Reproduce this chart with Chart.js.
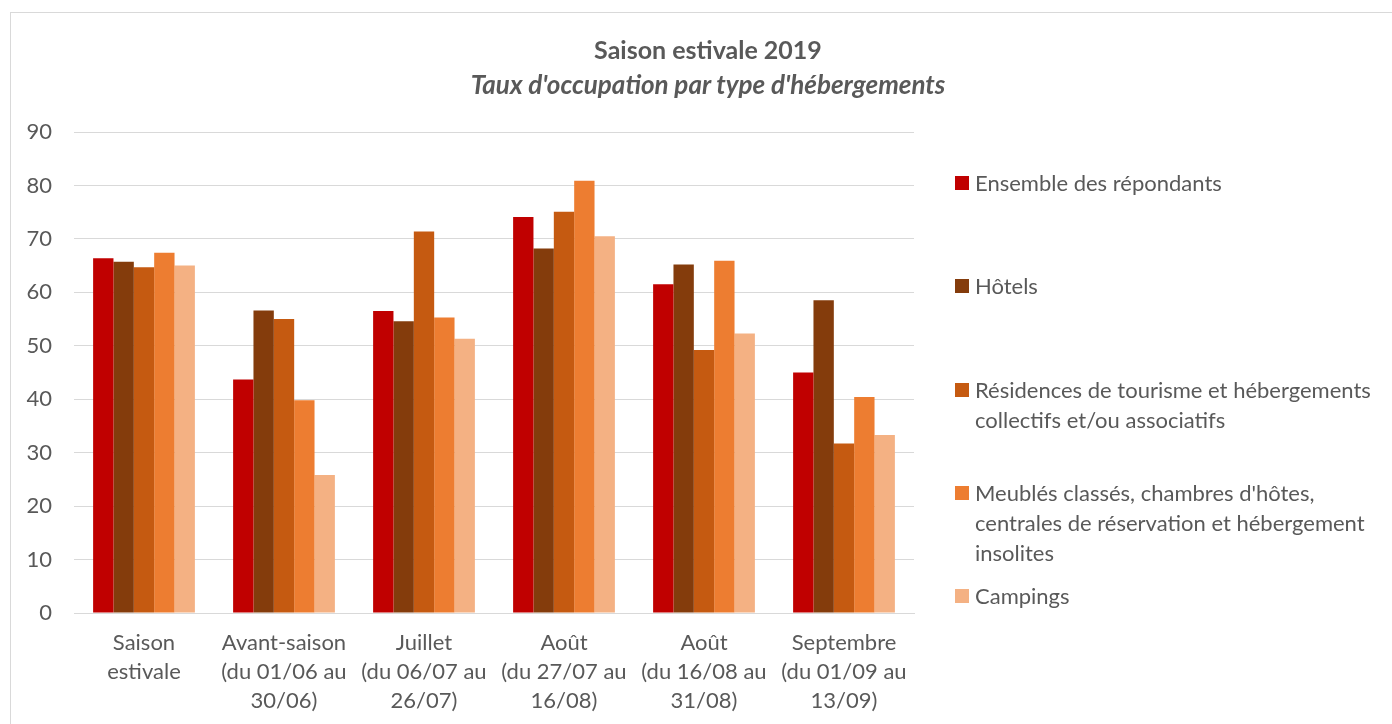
<!DOCTYPE html>
<html lang="fr">
<head>
  <meta charset="UTF-8">
  <title>Saison estivale 2019</title>
  <script src="https://cdn.jsdelivr.net/npm/chart.js"></script>
  <style>
    body { margin: 0; width: 1392px; height: 724px; overflow: hidden; background: #fff; font-family: Lato, "Open Sans", sans-serif; }
    #box { position: absolute; left: 10px; top: 12px; width: 1394px; height: 730px; border: 1px solid #d9d9d9; box-sizing: border-box; }
    #box canvas { position: absolute; left: 0; top: 0; }
    .ttl { position: absolute; left: 0; width: 1394px; text-align: center; color: #595959; font-weight: bold; line-height: 30px; }
    #t1 { top: 21px; font-size: 25px; }
    #t2 { top: 56px; font-size: 26px; font-style: italic; }
    #legend { position: absolute; left: 944px; top: 0; width: 450px; }
    .item { position: absolute; left: 0; display: flex; align-items: flex-start; font-size: 22px; line-height: 30px; color: #595959; }
    .sq { width: 14px; height: 14px; margin: 8px 6px 0 0; flex: none; }
  </style>
</head>
<body>
  <div id="box">
    <canvas id="chart" width="1394" height="730"></canvas>
    <div class="ttl" id="t1">Saison estivale 2019</div>
    <div class="ttl" id="t2">Taux d'occupation par type d'hébergements</div>
    <div id="legend"></div>
  </div>

  <script>
    const categories = [
      ['Saison', 'estivale'],
      ['Avant-saison', '(du 01/06 au', '30/06)'],
      ['Juillet', '(du 06/07 au', '26/07)'],
      ['Août', '(du 27/07 au', '16/08)'],
      ['Août', '(du 16/08 au', '31/08)'],
      ['Septembre', '(du 01/09 au', '13/09)']
    ];

    const seriesNames = [
      ['Ensemble des répondants'],
      ['Hôtels'],
      ['Résidences de tourisme et hébergements', 'collectifs et/ou associatifs'],
      ['Meublés classés, chambres d\'hôtes,', 'centrales de réservation et hébergement', 'insolites'],
      ['Campings']
    ];
    const seriesColors = ['#C00000', '#843C0C', '#C55A11', '#ED7D31', '#F4B183'];

    const ensemble   = [66.4, 43.7, 56.5, 74.1, 61.5, 45.0];
    const hotels     = [65.7, 56.6, 54.6, 68.2, 65.2, 58.5];
    const residences = [64.7, 55.0, 71.4, 75.1, 49.2, 31.7];
    const meubles    = [67.4, 39.8, 55.3, 80.9, 65.9, 40.4];
    const campings   = [65.0, 25.8, 51.3, 70.5, 52.3, 33.3];
    const seriesValues = [ensemble, hotels, residences, meubles, campings];

    const yTicks = [0, 10, 20, 30, 40, 50, 60, 70, 80, 90];

    const datasets = seriesValues.map((vals, i) => ({
      label: seriesNames[i].join(' '),
      data: vals,
      backgroundColor: seriesColors[i],
      borderWidth: 0,
      barPercentage: 1,
      categoryPercentage: 0.727
    }));

    const txt = '#595959';

    new Chart(document.getElementById('chart'), {
      type: 'bar',
      data: { labels: categories, datasets: datasets },
      options: {
        responsive: false,
        animation: false,
        layout: { padding: { left: 0, right: 491, top: 119, bottom: 0 } },
        plugins: {
          legend: { display: false },
          tooltip: { enabled: false }
        },
        scales: {
          x: {
            grid: { display: false, drawTicks: false },
            border: { color: '#d9d9d9', width: 1 },
            ticks: { color: txt, padding: 16, maxRotation: 0, autoSkip: false, font: { family: 'Lato', size: 22, lineHeight: 1.3 } },
            afterFit: s => { s.height = 130; }
          },
          y: {
            min: 0, max: 90,
            afterBuildTicks: s => { s.ticks = yTicks.map(v => ({ value: v })); },
            grid: { color: '#d9d9d9', lineWidth: 1, drawTicks: false },
            border: { display: false },
            ticks: { color: txt, padding: 22, font: { family: 'Lato', size: 22 } },
            afterFit: s => { s.width = 63; }
          }
        }
      }
    });

    // legend on the right, built from the series
    const legend = document.getElementById('legend');
    seriesNames.forEach((lines, i) => {
      const item = document.createElement('div');
      item.className = 'item';
      item.style.top = (155 + i * 103.3) + 'px';
      item.innerHTML = '<span class="sq" style="background:' + seriesColors[i] + '"></span><span>' + lines.join('<br>') + '</span>';
      legend.appendChild(item);
    });
  </script>
</body>
</html>
